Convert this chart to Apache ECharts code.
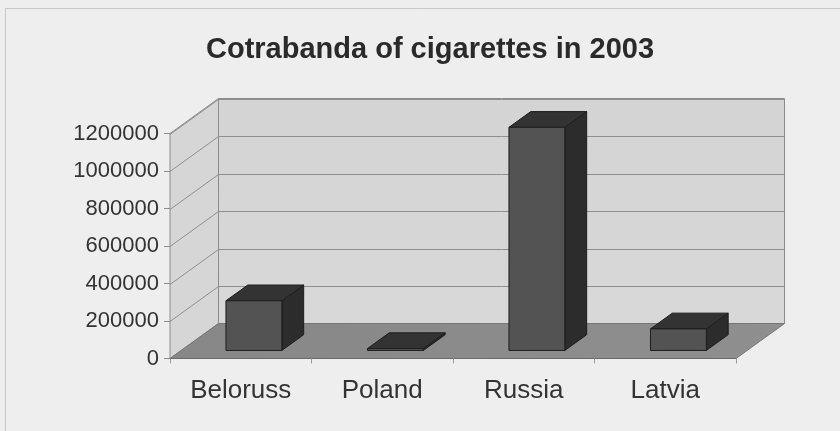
<!DOCTYPE html>
<html>
<head>
<meta charset="utf-8">
<title>Cotrabanda of cigarettes in 2003</title>
<script src="https://cdn.jsdelivr.net/npm/echarts@6/dist/echarts.min.js"></script>
<style>
  html, body { margin: 0; padding: 0; background: #eeeeee; }
  #chart { width: 840px; height: 431px; }
</style>
</head>
<body>
<div id="chart"></div>
<script>
// Chart data
const categories = ['Beloruss', 'Poland', 'Russia', 'Latvia'];
const values = [265000, 10000, 1190000, 115000];
const yTicks = [0, 200000, 400000, 600000, 800000, 1000000, 1200000];

// 3D depth offset of the back wall relative to the front plane (px)
const DX = 48.5, DY = -35;
// Bar depth placement as fractions of the floor depth
const BAR_F0 = 0.23, BAR_F1 = 0.68;
const BAR_W = 0.395;

const chart = echarts.init(document.getElementById('chart'));

function poly(points, fill, stroke, lw, z2) {
  return {
    type: 'polygon',
    z2: z2 || 0,
    shape: { points: points },
    style: { fill: fill, stroke: stroke || null, lineWidth: lw || 0 }
  };
}

// Walls and floor of the 3D box
function renderWalls(params, api) {
  const cs = params.coordSys;
  const x0 = cs.x, x1 = cs.x + cs.width;
  const yTop = cs.y, yBot = cs.y + cs.height;
  const children = [];
  // back wall
  children.push(poly([[x0 + DX, yTop + DY], [x1 + DX, yTop + DY], [x1 + DX, yBot + DY], [x0 + DX, yBot + DY]],
    new echarts.graphic.LinearGradient(0, 0, 0, 1, [{ offset: 0, color: '#d4d4d4' }, { offset: 1, color: '#d8d8d8' }]),
    '#8c8c8c', 1, 0));
  // left side wall
  children.push(poly([[x0, yBot], [x0 + DX, yBot + DY], [x0 + DX, yTop + DY], [x0, yTop]],
    '#d6d6d6', '#8c8c8c', 1, 0));
  // floor
  children.push(poly([[x0, yBot], [x1, yBot], [x1 + DX, yBot + DY], [x0 + DX, yBot + DY]],
    new echarts.graphic.LinearGradient(0, 0, 1, 0, [{ offset: 0, color: '#878787' }, { offset: 1, color: '#8f8f8f' }]),
    '#777777', 1, 1));
  return { type: 'group', children: children };
}

// Gridlines on the back and side walls, one per tick
function renderGrid(params, api) {
  const cs = params.coordSys;
  const x0 = cs.x, x1 = cs.x + cs.width;
  const p = api.coord([0, api.value(0)]);
  const y = Math.round(p[1]) + 0.5;
  if (api.value(0) === 0) return { type: 'group', children: [] };
  return {
    type: 'group',
    children: [
      { type: 'line', shape: { x1: x0 + DX, y1: y + DY, x2: x1 + DX, y2: y + DY }, style: { stroke: '#8f8f8f', lineWidth: 1 } },
      { type: 'line', shape: { x1: x0, y1: y, x2: x0 + DX, y2: y + DY }, style: { stroke: '#8f8f8f', lineWidth: 1 } }
    ]
  };
}

// 3D bars: side, top and front faces
function renderBar(params, api) {
  const idx = api.value(0);
  const val = api.value(1);
  const base = api.coord([idx, 0]);
  const top = api.coord([idx, val]);
  const band = api.size([1, 0])[0];
  const w = band * BAR_W;
  const fx = BAR_F0 * DX, fy = BAR_F0 * DY;
  const dx = (BAR_F1 - BAR_F0) * DX, dy = (BAR_F1 - BAR_F0) * DY;
  const xl = base[0] - w / 2 + fx + 2;
  const xr = xl + w;
  const yb = base[1] + fy;
  const yt = top[1] + fy;
  const edge = '#1e1e1e';
  return {
    type: 'group',
    children: [
      poly([[xr, yb], [xr + dx, yb + dy], [xr + dx, yt + dy], [xr, yt]], '#2c2c2c', edge, 1),
      poly([[xl, yt], [xr, yt], [xr + dx, yt + dy], [xl + dx, yt + dy]], '#333333', edge, 1),
      poly([[xl, yb], [xr, yb], [xr, yt], [xl, yt]], '#535353', edge, 1)
    ]
  };
}

chart.setOption({
  backgroundColor: '#eeeeee',
  animation: false,
  title: {
    text: 'Cotrabanda of cigarettes in 2003',
    left: 425,
    textAlign: 'center',
    top: 30,
    textStyle: { fontFamily: 'Liberation Sans', fontWeight: 'bold', fontSize: 29, color: '#2a2a2a' }
  },
  graphic: [{
    type: 'rect',
    shape: { x: 5.5, y: 8.5, width: 900, height: 500 },
    style: { fill: null, stroke: '#c8c8c8', lineWidth: 1 },
    silent: true
  }],
  grid: { left: 170, right: 104, top: 133.5, bottom: 72.5, containLabel: false },
  xAxis: {
    type: 'category',
    data: categories,
    axisLine: { show: true, lineStyle: { color: '#6a6a6a', width: 1 } },
    axisTick: { show: true, length: 5, alignWithLabel: false, lineStyle: { color: '#9a9a9a' } },
    axisLabel: { margin: 19, fontFamily: 'Liberation Sans', fontSize: 26, color: '#333333' },
    splitLine: { show: false },
    z: 10
  },
  yAxis: {
    type: 'value',
    min: 0,
    max: 1200000,
    interval: 200000,
    axisLine: { show: true, lineStyle: { color: '#8c8c8c' } },
    axisTick: { show: true, length: 6, lineStyle: { color: '#8c8c8c' } },
    axisLabel: {
      margin: 11, fontFamily: 'Liberation Sans', fontSize: 22, color: '#333333',
      formatter: v => String(v)
    },
    splitLine: { show: false }
  },
  series: [
    { type: 'custom', z: 1, renderItem: renderWalls, data: [[0]], silent: true },
    { type: 'custom', z: 2, renderItem: renderGrid, data: yTicks.map(v => [v]), encode: { y: 0 }, silent: true },
    { type: 'custom', z: 3, renderItem: renderBar, data: values.map((v, i) => [i, v]), encode: { x: 0, y: 1 } }
  ]
});
</script>
</body>
</html>
